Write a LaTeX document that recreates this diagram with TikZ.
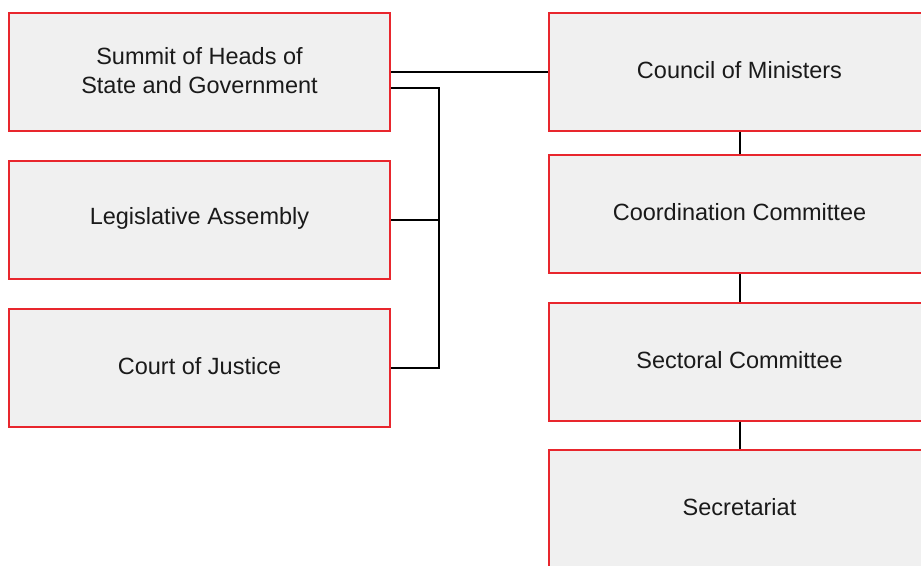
\documentclass[tikz,border=0pt]{standalone}
\usepackage{fontspec}
\setmainfont{Liberation Sans}
\definecolor{boxred}{HTML}{E8262D}
\definecolor{boxfill}{HTML}{F0F0F0}
\definecolor{ink}{HTML}{1A1A1A}
\begin{document}
\begin{tikzpicture}[x=1pt,y=-1pt,
  orgbox/.style={draw=boxred, fill=boxfill, line width=2pt, minimum width=381pt,
    minimum height=118pt, inner sep=0pt},
  boxtext/.style={inner sep=0pt, align=center, text=ink, yshift=1.5pt,
    font=\fontsize{23.5}{29}\selectfont},
  link/.style={draw=black, line width=2pt}]
\useasboundingbox (0,0) rectangle (921,565);
% left column
\node[orgbox] (summit) at (199.5,72) {};
\node[orgbox] (leg)    at (199.5,220) {};
\node[orgbox] (court)  at (199.5,368) {};
% right column
\node[orgbox] (council) at (739.5,72) {};
\node[orgbox] (coord)   at (739.5,214) {};
\node[orgbox] (sector)  at (739.5,361.5) {};
\node[orgbox] (secr)    at (739.5,509) {};
% box labels
\node[boxtext] (summit-t)  at (summit.center) {Summit of Heads of\\State and Government};
\node[boxtext] (leg-t)     at (leg.center) {Legislative Assembly};
\node[boxtext] (court-t)   at (court.center) {Court of Justice};
\node[boxtext] (council-t) at (council.center) {Council of Ministers};
\node[boxtext] (coord-t)   at (coord.center) {Coordination Committee};
\node[boxtext] (sector-t)  at (sector.center) {Sectoral Committee};
\node[boxtext] (secr-t)    at (secr.center) {Secretariat};
% connectors
\draw[link] (summit.east) -- (summit.east -| council.west);
\coordinate (bx) at (439,0);
\draw[link] ([yshift=-16pt]summit.east) -| (bx |- court.east) -- (court.east);
\draw[link] (leg.east) -- (bx |- leg.east);
\draw[link] (council) -- (coord);
\draw[link] (coord) -- (sector);
\draw[link] (sector) -- (secr);
\end{tikzpicture}
\end{document}
